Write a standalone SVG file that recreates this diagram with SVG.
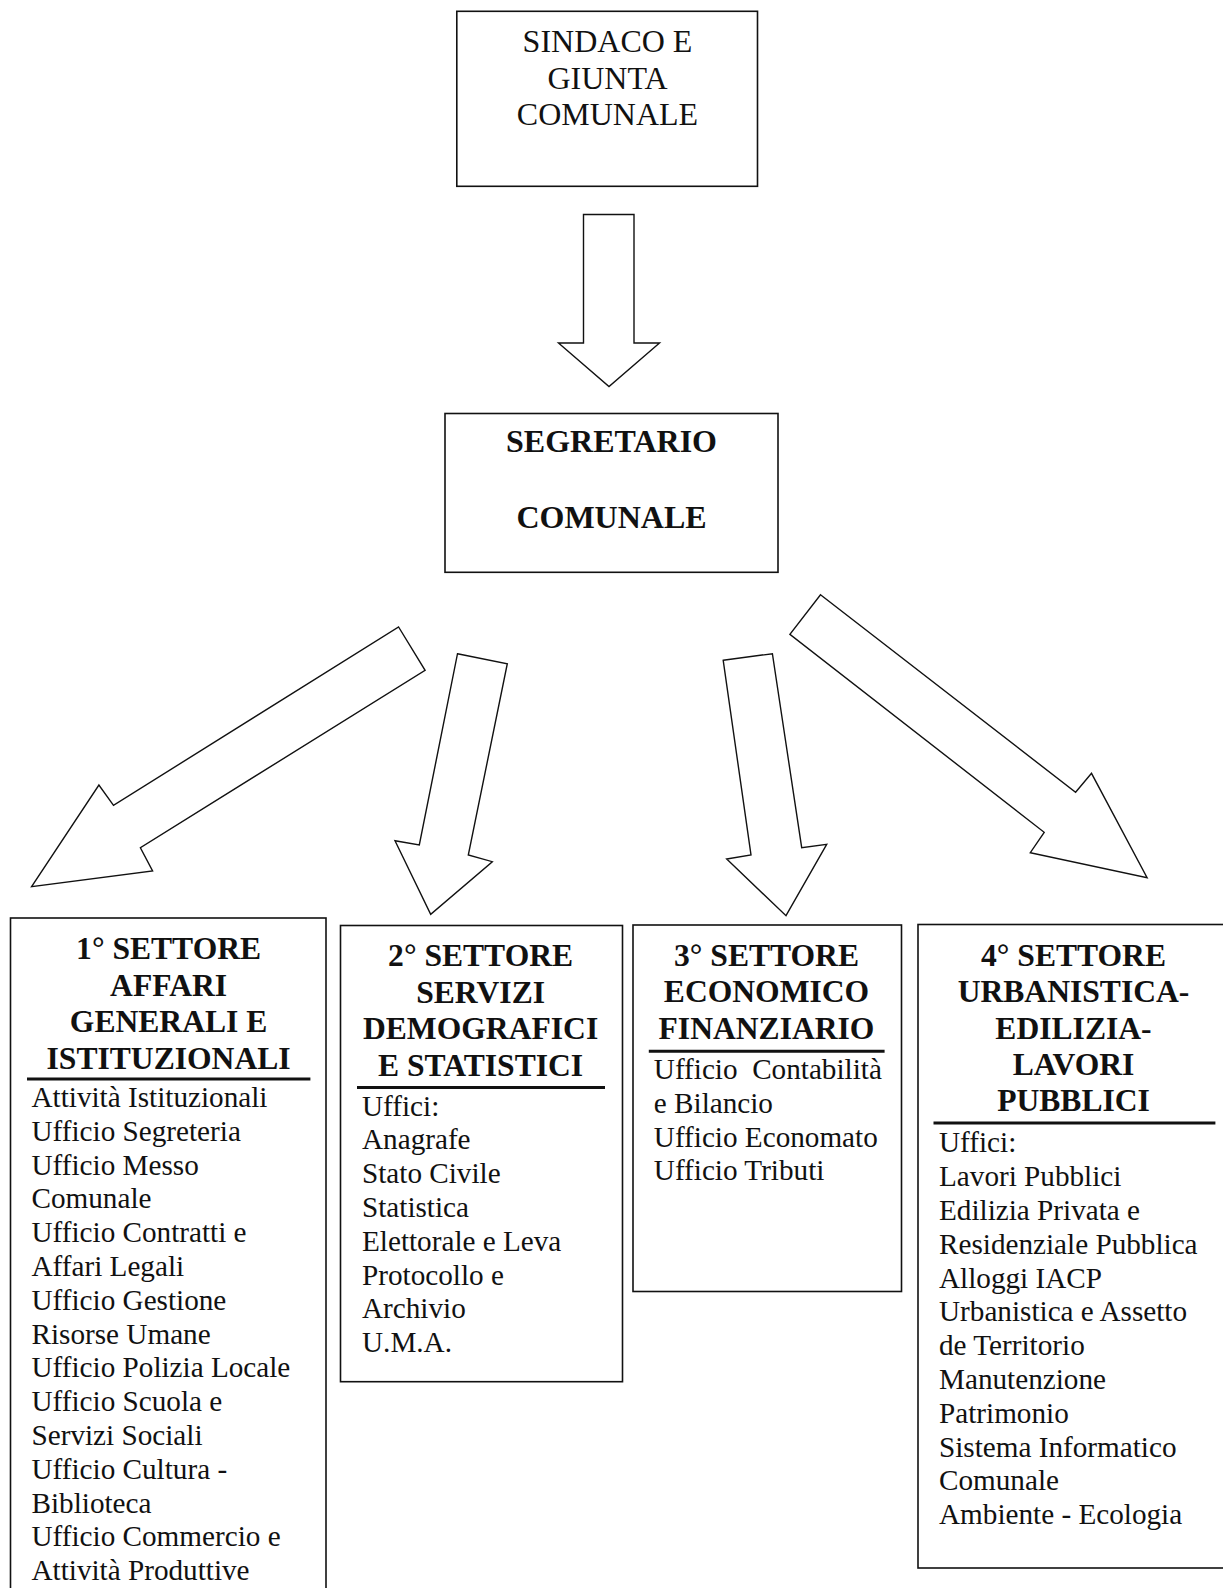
<svg xmlns="http://www.w3.org/2000/svg" width="1223" height="1588" viewBox="0 0 1223 1588">
<style>
.box{fill:#fff;stroke:#111;stroke-width:1.6}
.arr{fill:#fff;stroke:#111;stroke-width:1.4;stroke-linejoin:miter}
.top{font-family:"Liberation Serif","Times New Roman",serif;font-size:32px;fill:#111;text-anchor:middle}
.hd{font-family:"Liberation Serif","Times New Roman",serif;font-size:31.6px;font-weight:bold;fill:#111;text-anchor:middle}
.hd2{font-family:"Liberation Serif","Times New Roman",serif;font-size:32px;font-weight:bold;fill:#111;text-anchor:middle}
.bd{font-family:"Liberation Serif","Times New Roman",serif;font-size:29.2px;fill:#111}
.ul{stroke:#111;stroke-width:3}
</style>
<rect width="1223" height="1588" fill="#fff"/>
<g id="connectors">
<polygon class="arr" points="583.5,214.5 634,214.5 634,343 659.5,343 609,386.5 558.5,343 583.5,343"/>
<polygon class="arr" points="398.6,627 425.1,670.3 140.4,847.7 152.6,871 31.6,886.7 98.9,785 113.5,805.3"/>
<polygon class="arr" points="457.5,653.7 507.3,663.7 468.3,855 492.3,861.7 430.7,914.3 395,840.7 419.3,845"/>
<polygon class="arr" points="723.2,660.3 772.4,653.7 801.7,847.7 826.7,844.3 786,915.7 726.7,859 751,855"/>
<polygon class="arr" points="820.5,594.7 1075.6,792.3 1091.5,773.3 1147.1,877.7 1030.3,852.7 1044.2,832.3 789.9,634.3"/>
</g>
<g id="sindaco">
<rect class="box" x="456.8" y="11.3" width="300.7" height="175"/>
<text class="top" x="607.5" y="52">SINDACO E</text>
<text class="top" x="607.5" y="88.5">GIUNTA</text>
<text class="top" x="607.5" y="125">COMUNALE</text>
</g>
<g id="segretario">
<rect class="box" x="445" y="413.5" width="333" height="158.8"/>
<text class="hd2" x="611.5" y="451.5">SEGRETARIO</text>
<text class="hd2" x="611.5" y="528.3">COMUNALE</text>
</g>
<g id="settore1">
<rect class="box" x="10.5" y="918" width="315.5" height="700"/>
<text class="hd" x="168.6" y="959.2">1° SETTORE</text>
<text class="hd" x="168.6" y="995.7">AFFARI</text>
<text class="hd" x="168.6" y="1031.9">GENERALI E</text>
<text class="hd" x="168.6" y="1068.5">ISTITUZIONALI</text>
<line class="ul" x1="27" y1="1079" x2="310.4" y2="1079"/>
<text class="bd" x="31.5" y="1107">Attività Istituzionali</text>
<text class="bd" x="31.5" y="1140.8">Ufficio Segreteria</text>
<text class="bd" x="31.5" y="1174.6">Ufficio Messo</text>
<text class="bd" x="31.5" y="1208.4">Comunale</text>
<text class="bd" x="31.5" y="1242.2">Ufficio Contratti e</text>
<text class="bd" x="31.5" y="1276">Affari Legali</text>
<text class="bd" x="31.5" y="1309.8">Ufficio Gestione</text>
<text class="bd" x="31.5" y="1343.6">Risorse Umane</text>
<text class="bd" x="31.5" y="1377.4">Ufficio Polizia Locale</text>
<text class="bd" x="31.5" y="1411.2">Ufficio Scuola e</text>
<text class="bd" x="31.5" y="1445">Servizi Sociali</text>
<text class="bd" x="31.5" y="1478.8">Ufficio Cultura -</text>
<text class="bd" x="31.5" y="1512.6">Biblioteca</text>
<text class="bd" x="31.5" y="1546.4">Ufficio Commercio e</text>
<text class="bd" x="31.5" y="1580.2">Attività Produttive</text>
</g>
<g id="settore2">
<rect class="box" x="340.5" y="925.5" width="282" height="456.2"/>
<text class="hd" x="480.6" y="965.8">2° SETTORE</text>
<text class="hd" x="480.6" y="1002.6">SERVIZI</text>
<text class="hd" x="480.6" y="1039.2">DEMOGRAFICI</text>
<text class="hd" x="480.6" y="1075.5">E STATISTICI</text>
<line class="ul" x1="357" y1="1087.4" x2="605" y2="1087.4"/>
<text class="bd" x="362" y="1115.5">Uffici:</text>
<text class="bd" x="362" y="1149.3">Anagrafe</text>
<text class="bd" x="362" y="1183.1">Stato Civile</text>
<text class="bd" x="362" y="1216.9">Statistica</text>
<text class="bd" x="362" y="1250.7">Elettorale e Leva</text>
<text class="bd" x="362" y="1284.5">Protocollo e</text>
<text class="bd" x="362" y="1318.3">Archivio</text>
<text class="bd" x="362" y="1352.1">U.M.A.</text>
</g>
<g id="settore3">
<rect class="box" x="633" y="925" width="268.5" height="366.5"/>
<text class="hd" x="766.5" y="965.8">3° SETTORE</text>
<text class="hd" x="766.5" y="1002.4">ECONOMICO</text>
<text class="hd" x="766.5" y="1039.2">FINANZIARIO</text>
<line class="ul" x1="648.8" y1="1051.2" x2="884.6" y2="1051.2"/>
<text class="bd" x="653.8" y="1079" xml:space="preserve">Ufficio  Contabilità</text>
<text class="bd" x="653.8" y="1112.8">e Bilancio</text>
<text class="bd" x="653.8" y="1146.6">Ufficio Economato</text>
<text class="bd" x="653.8" y="1180.4">Ufficio Tributi</text>
</g>
<g id="settore4">
<rect class="box" x="918" y="924.5" width="320" height="643.5"/>
<text class="hd" x="1073.5" y="965.8">4° SETTORE</text>
<text class="hd" x="1073.5" y="1002.4">URBANISTICA-</text>
<text class="hd" x="1073.5" y="1038.8">EDILIZIA-</text>
<text class="hd" x="1073.5" y="1074.8">LAVORI</text>
<text class="hd" x="1073.5" y="1110.8">PUBBLICI</text>
<line class="ul" x1="933.5" y1="1122.9" x2="1215.4" y2="1122.9"/>
<text class="bd" x="939" y="1152.3">Uffici:</text>
<text class="bd" x="939" y="1186.1">Lavori Pubblici</text>
<text class="bd" x="939" y="1219.9">Edilizia Privata e</text>
<text class="bd" x="939" y="1253.7">Residenziale Pubblica</text>
<text class="bd" x="939" y="1287.5">Alloggi IACP</text>
<text class="bd" x="939" y="1321.3">Urbanistica e Assetto</text>
<text class="bd" x="939" y="1355.1">de Territorio</text>
<text class="bd" x="939" y="1388.9">Manutenzione</text>
<text class="bd" x="939" y="1422.7">Patrimonio</text>
<text class="bd" x="939" y="1456.5">Sistema Informatico</text>
<text class="bd" x="939" y="1490.3">Comunale</text>
<text class="bd" x="939" y="1524.1">Ambiente - Ecologia</text>
</g>
</svg>
